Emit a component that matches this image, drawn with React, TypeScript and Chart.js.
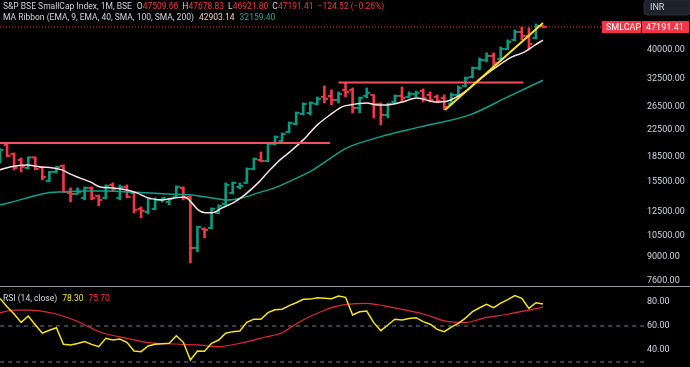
import React, { useEffect, useRef } from "react";
import { Chart, registerables } from "chart.js";
Chart.register(...registerables);

// ---------- DATA (monthly OHLC, S&P BSE SmallCap) ----------
const opens = [
  18129, 20195, 18930, 18129, 17115, 18450, 17239, 15586, 16630, 17364,
  14298, 14195, 13793, 14822, 13992, 13793, 15145, 13793, 14929, 14298,
  12745, 12473, 12745, 13596, 13402, 13892, 14822, 13892, 9625, 11036,
  11115, 12384, 13211, 14298, 14929, 15364, 16992, 18129, 17999, 20341,
  20785, 22176, 23488, 25241, 25423, 27122, 28523, 28729, 27914, 29997,
  29997, 26353, 28729, 28936, 27122, 25060, 27515, 28729, 28523, 29146,
  29782, 28936, 28523, 28319, 27122, 28936, 30870, 32938, 35142, 37223,
  38309, 37492, 40288, 42986, 45530, 44241, 43609, 47509.66,
];
const highs = [
  19625, 20341, 19068, 18392, 18525, 18525, 17300, 16700, 17300, 17489,
  14822, 14822, 14929, 14929, 14090, 15145, 15364, 15145, 15145, 14401,
  12929, 13793, 13793, 13793, 13793, 15036, 14929, 13992, 11250, 11115,
  12837, 13116, 15364, 15475, 15364, 17115, 18392, 19206, 20488, 21547,
  22017, 23828, 25607, 27318, 27515, 28523, 30870, 29997, 29568, 31547,
  30430, 28523, 30430, 29000, 27318, 27318, 28936, 30650, 29568, 29782,
  30214, 29568, 28936, 28936, 29356, 30870, 32938, 35396, 37763, 39146,
  39146, 40873, 42986, 46188, 47200, 46861, 48228, 47678.83,
];
const lows = [
  17743, 18525, 16871, 16630, 16992, 16871, 15698, 15475, 16511, 14350,
  13402, 14150, 13596, 13596, 13022, 13694, 14505, 13596, 13793, 12384,
  11946, 12296, 12654, 13402, 13116, 13793, 13596, 8641, 9353, 10345,
  11036, 12300, 13116, 14195, 14715, 15300, 16871, 17870, 17870, 20195,
  20488, 22017, 23319, 25060, 25060, 26928, 27318, 26928, 27318, 28523,
  25423, 25423, 28319, 24525, 23319, 24525, 27318, 27515, 28319, 28523,
  27515, 27515, 27318, 25976, 26928, 28523, 30650, 32703, 34639, 36690,
  35142, 37223, 40000, 42678, 42986, 40000, 43297, 46921.8,
];
const closes = [
  19484, 18659, 17115, 17239, 18450, 16992, 16040, 16630, 17239, 14401,
  14195, 14401, 14822, 13793, 13596, 15036, 14715, 14929, 13892, 12654,
  12563, 13694, 13596, 13793, 13694, 14929, 13793, 9625, 11195, 10957,
  12745, 13022, 15145, 15364, 15036, 16992, 18260, 17999, 20341, 21393,
  21859, 23657, 25423, 27122, 27318, 28116, 28116, 27914, 29146, 29568,
  26353, 28319, 29356, 27122, 25060, 27122, 28729, 28319, 29146, 29356,
  28319, 27914, 27714, 26543, 28936, 30430, 32703, 35142, 37223, 38309,
  36427, 40288, 42370, 45530, 44241, 41763, 47540, 47191.41,
];

// MA Ribbon lines (bar index, value)
const ema9Idx = [0, 1.4, 3.8, 5.7, 7.5, 8.8, 9.9, 11.3, 12.8, 14.2, 16, 18, 19.4, 21, 23, 24.8, 26.2, 27.2, 28.1, 29.1, 30.1, 31.5, 33.3, 34.7, 36.6, 38, 39, 39.7, 41.1, 43, 45, 46.8, 48.5, 49.6, 52, 53.5, 54.9, 57.1, 59.1, 61.7, 63.5, 65.9, 68.3, 70.2, 72.6, 74.4, 75.9, 77];
const ema9Vals = [16871, 17239, 17489, 17239, 17115, 16871, 16392, 15929, 15475, 14929, 14822, 14610, 14298, 13793, 13596, 13793, 13892, 13306, 12654, 12384, 12384, 12837, 13402, 14093, 15364, 16630, 17489, 18129, 19206, 20936, 23319, 25060, 26543, 26928, 27318, 26928, 26928, 27515, 28319, 27515, 27714, 29568, 32703, 35142, 38036, 39429, 41465, 42903.14];
const ema40Idx = [0, 1.8, 4.3, 6.7, 8.9, 11.8, 15.2, 18, 23.8, 27.2, 30.1, 32.3, 34.3, 36.6, 39.3, 41.8, 44.4, 46.1, 49.2, 53.9, 59.6, 66.6, 72, 77];
const ema40Vals = [13116, 13402, 13892, 14298, 14401, 14505, 14505, 14401, 14195, 14093, 13793, 13596, 13793, 14298, 14929, 15813, 16871, 17870, 19765, 21393, 22990, 25060, 28523, 32159.4];

// Drawings
const supportLevel = 20488;
const supportFrom = -1;
const supportTo = 46.8;
const resistLevel = 31613;
const resistFrom = 48;
const resistTo = 74.2;
const trendIdx = [63.1, 77];
const trendVals = [25976, 48577];

// RSI (14, close) and its MA
const rsiVals = [
  83, 76, 70, 63, 68.3, 61, 54, 56.5, 58.6, 44.7,
  44.2, 45.5, 47, 44.7, 42.8, 49.7, 48.3, 49.2, 46.4, 39.2,
  38.6, 43.3, 44.7, 45.2, 45.6, 51.9, 46.4, 31.7, 39.2, 38.9,
  45.6, 48.3, 54, 55.3, 55.8, 63, 65.7, 65.6, 71.1, 73.5,
  74, 77, 79.4, 82.2, 82.4, 83.6, 83.2, 82.8, 85, 83.9,
  69.2, 71.9, 72.5, 62.8, 56.1, 60.8, 65.6, 65.0, 66.2, 66.9,
  63.6, 61.5, 57.2, 55.3, 59, 62.2, 66.5, 72, 75.2, 78.1,
  75.3, 79, 82, 85.3, 83.1, 74.7, 79.4, 78.3,
];
const rsiMaIdx = [0, 2, 4, 7.5, 10.5, 14.5, 18, 21, 25, 28, 31, 34, 37.5, 40, 42.5, 45, 47.5, 49.5, 52, 54.5, 57.5, 60.5, 63, 66, 68.5, 72, 75, 77];
const rsiMaVals = [71.1, 73.3, 73.3, 70.6, 65, 54.4, 49.7, 46.1, 45, 44.2, 42.8, 45.6, 50.6, 54.4, 63.6, 70.6, 76.1, 78.3, 78.9, 76.7, 73.3, 69.2, 64.2, 62.8, 66.4, 69.8, 73.3, 75.7];
const rsiBands = [60, 30];

const priceTicks = [40000, 32500, 26500, 22500, 18500, 15500, 12500, 10500, 9000, 7600];
const rsiTicks = [80, 60, 40];

const titleText = "S&P BSE SmallCap Index, 1M, BSE";
const changeText = "\u2212124.52 (\u22120.26%)";
const maTitle = "MA Ribbon (EMA, 9, EMA, 40, SMA, 100, SMA, 200)";
const rsiTitle = "RSI (14, close)";
const symbolName = "SMLCAP";
const currency = "INR";

// ---------- STYLE ----------
const FONT = "Roboto, 'Liberation Sans', sans-serif";
const RED = "#f23645";
const GREEN = "#089981";
const TXT = "#d1d4dc";
const EMA9_COLOR = "#f9e3e3";
const EMA9_TEXT = "#f5c6ca";
const EMA40_COLOR = "#12a08b";
const X_MIN = 0;
const X_MAX = 91.32;

type Run = [string, string, number];
function drawRuns(ctx: CanvasRenderingContext2D, runs: Run[], x: number, y: number) {
  let cx = x;
  for (const [t, col, gap] of runs) {
    ctx.fillStyle = col;
    ctx.fillText(t, cx, y);
    cx += ctx.measureText(t).width + gap;
  }
}

const fitAxis = (s: any) => {
  s.width = 46;
  s.paddingTop = 0;
  s.paddingBottom = 0;
};

export default function App() {
  const mainRef = useRef<HTMLCanvasElement>(null);
  const rsiRef = useRef<HTMLCanvasElement>(null);

  useEffect(() => {
    const idx = closes.map((_, i) => i);
    const last = closes.length - 1;

    const bgPlugin = {
      id: "bg",
      beforeDraw(c: any) {
        const ctx = c.ctx;
        ctx.save();
        ctx.fillStyle = "#000";
        ctx.fillRect(0, 0, c.width, c.height);
        ctx.restore();
      },
    };

    const ohlcTicks = {
      id: "ohlcTicks",
      afterDatasetDraw(c: any, args: any) {
        if (c.data.datasets[args.index].label !== "ohlc") return;
        const xs = c.scales.x;
        const ys = c.scales.y;
        const ctx = c.ctx;
        const a = c.chartArea;
        ctx.save();
        ctx.beginPath();
        ctx.rect(a.left, a.top, a.right - a.left, a.bottom - a.top);
        ctx.clip();
        idx.forEach((i) => {
          const x = xs.getPixelForValue(i);
          ctx.fillStyle = closes[i] >= opens[i] ? GREEN : RED;
          const yo = ys.getPixelForValue(opens[i]);
          const yc = ys.getPixelForValue(closes[i]);
          ctx.fillRect(x - 3.5, yo - 1, 3, 2);
          ctx.fillRect(x + 0.5, yc - 1, 3, 2);
        });
        ctx.restore();
      },
    };

    const mainOverlay = {
      id: "mainOverlay",
      afterDraw(c: any) {
        const ctx = c.ctx as CanvasRenderingContext2D;
        const ys = c.scales.y;
        ctx.save();
        ctx.textBaseline = "middle";
        ctx.font = `8.5px ${FONT}`;
        drawRuns(
          ctx,
          [
            [titleText, TXT, 5],
            ["O", TXT, 0],
            [opens[last].toFixed(2), RED, 4],
            ["H", TXT, 0],
            [highs[last].toFixed(2), RED, 4],
            ["L", TXT, 0],
            [lows[last].toFixed(2), RED, 4],
            ["C", TXT, 0],
            [closes[last].toFixed(2), RED, 4],
            [changeText, RED, 0],
          ],
          3,
          7
        );
        drawRuns(
          ctx,
          [
            [maTitle, TXT, 5],
            [ema9Vals[ema9Vals.length - 1].toFixed(2), EMA9_TEXT, 5],
            [ema40Vals[ema40Vals.length - 1].toFixed(2), "#26a69a", 0],
          ],
          3,
          18
        );
        // currency box
        ctx.fillStyle = "#1e222d";
        ctx.beginPath();
        (ctx as any).roundRect(644, 0, 46, 15, 3);
        ctx.fill();
        ctx.strokeStyle = "#2a2e39";
        ctx.stroke();
        ctx.fillStyle = TXT;
        ctx.font = `9px ${FONT}`;
        ctx.fillText(currency, 650, 7.5);
        // last price labels
        const yp = Math.round(ys.getPixelForValue(closes[last]));
        ctx.fillStyle = RED;
        ctx.fillRect(602, yp - 6, 39, 12);
        ctx.fillRect(642, yp - 6, 47, 12);
        ctx.fillStyle = "#ffffff";
        ctx.font = `9px ${FONT}`;
        ctx.fillText(symbolName, 606, yp + 0.5);
        ctx.fillText(closes[last].toFixed(2), 646, yp + 0.5);
        ctx.restore();
      },
    };

    const mainChart = new Chart(mainRef.current as HTMLCanvasElement, {
      type: "bar",
      data: {
        datasets: [
          {
            type: "line",
            label: "support",
            data: [
              { x: supportFrom, y: supportLevel },
              { x: supportTo, y: supportLevel },
            ],
            borderColor: "#f6505c",
            borderWidth: 2,
            pointRadius: 0,
            order: 1,
          },
          {
            type: "line",
            label: "resistance",
            data: [
              { x: resistFrom, y: resistLevel },
              { x: resistTo, y: resistLevel },
            ],
            borderColor: "#f6505c",
            borderWidth: 2,
            pointRadius: 0,
            order: 1,
          },
          {
            type: "line",
            label: "trend",
            data: trendIdx.map((x, k) => ({ x, y: trendVals[k] })),
            borderColor: "#f7e51c",
            borderWidth: 2,
            pointRadius: 0,
            order: 0,
          },
          {
            type: "line",
            label: "last",
            data: [
              { x: X_MIN, y: closes[last] },
              { x: X_MAX, y: closes[last] },
            ],
            borderColor: RED,
            borderWidth: 1,
            borderDash: [1, 2],
            pointRadius: 0,
            order: 4,
          },
          {
            type: "line",
            label: "ema9",
            data: ema9Idx.map((x, k) => ({ x, y: ema9Vals[k] })),
            borderColor: EMA9_COLOR,
            borderWidth: 1.5,
            pointRadius: 0,
            cubicInterpolationMode: "monotone",
            order: 2,
          },
          {
            type: "line",
            label: "ema40",
            data: ema40Idx.map((x, k) => ({ x, y: ema40Vals[k] })),
            borderColor: EMA40_COLOR,
            borderWidth: 1.5,
            pointRadius: 0,
            cubicInterpolationMode: "monotone",
            order: 2,
          },
          {
            type: "bar",
            label: "ohlc",
            data: idx.map((i) => ({ x: i, y: [lows[i], highs[i]] })) as any,
            backgroundColor: idx.map((i) => (closes[i] >= opens[i] ? GREEN : RED)),
            borderWidth: 0,
            barThickness: 2,
            order: 3,
          } as any,
        ],
      },
      options: {
        responsive: false,
        maintainAspectRatio: false,
        animation: false,
        layout: { padding: 0 },
        plugins: { legend: { display: false }, tooltip: { enabled: false } },
        scales: {
          x: { type: "linear", min: X_MIN, max: X_MAX, display: false, offset: false },
          y: {
            type: "logarithmic",
            position: "right",
            min: 7265,
            max: 57280,
            afterBuildTicks: (s: any) => {
              s.ticks = priceTicks.map((v) => ({ value: v }));
            },
            afterFit: fitAxis,
            grid: { display: false, drawTicks: false },
            border: { display: false },
            ticks: {
              color: TXT,
              font: { family: FONT, size: 9 },
              padding: 3,
              autoSkip: false,
              callback: (v: any) => Number(v).toFixed(2),
            },
          },
        },
      } as any,
      plugins: [bgPlugin, ohlcTicks, mainOverlay],
    });

    const rsiOverlay = {
      id: "rsiOverlay",
      afterDraw(c: any) {
        const ctx = c.ctx as CanvasRenderingContext2D;
        ctx.save();
        ctx.textBaseline = "middle";
        ctx.font = `8.5px ${FONT}`;
        drawRuns(
          ctx,
          [
            [rsiTitle, TXT, 5],
            [rsiVals[rsiVals.length - 1].toFixed(2), "#f7e51c", 5],
            [rsiMaVals[rsiMaVals.length - 1].toFixed(2), RED, 0],
          ],
          3,
          12
        );
        ctx.restore();
      },
    };

    const rsiChart = new Chart(rsiRef.current as HTMLCanvasElement, {
      type: "line",
      data: {
        datasets: [
          ...rsiBands.map((b) => ({
            label: "band" + b,
            data: [
              { x: X_MIN, y: b },
              { x: X_MAX, y: b },
            ],
            borderColor: "#787b86",
            borderWidth: 1,
            borderDash: [4, 4],
            pointRadius: 0,
            order: 3,
          })),
          {
            label: "rsiMa",
            data: rsiMaIdx.map((x, k) => ({ x, y: rsiMaVals[k] })),
            borderColor: "#e0293b",
            borderWidth: 1.2,
            pointRadius: 0,
            cubicInterpolationMode: "monotone",
            order: 2,
          },
          {
            label: "rsi",
            data: idx.map((i) => ({ x: i, y: rsiVals[i] })),
            borderColor: "#f7e51c",
            borderWidth: 1.5,
            pointRadius: 0,
            tension: 0,
            order: 1,
          },
        ],
      },
      options: {
        responsive: false,
        maintainAspectRatio: false,
        animation: false,
        layout: { padding: 0 },
        plugins: { legend: { display: false }, tooltip: { enabled: false } },
        scales: {
          x: { type: "linear", min: X_MIN, max: X_MAX, display: false },
          y: {
            type: "linear",
            position: "right",
            min: 25.83,
            max: 92.5,
            afterBuildTicks: (s: any) => {
              s.ticks = rsiTicks.map((v) => ({ value: v }));
            },
            afterFit: fitAxis,
            grid: { display: false, drawTicks: false },
            border: { display: false },
            ticks: {
              color: TXT,
              font: { family: FONT, size: 9 },
              padding: 3,
              autoSkip: false,
              callback: (v: any) => Number(v).toFixed(2),
            },
          },
        },
      } as any,
      plugins: [bgPlugin, rsiOverlay],
    });

    return () => {
      mainChart.destroy();
      rsiChart.destroy();
    };
  }, []);

  return (
    <div
      style={{
        position: "fixed",
        left: 0,
        top: 0,
        width: 690,
        height: 367,
        background: "#000",
        overflow: "hidden",
      }}
    >
      <canvas
        ref={mainRef}
        width={690}
        height={287}
        style={{ position: "absolute", left: 0, top: 0, width: 690, height: 287 }}
      />
      <div
        style={{
          position: "absolute",
          left: 0,
          top: 286,
          width: 690,
          height: 1,
          background: "#9a9ca3",
        }}
      />
      <canvas
        ref={rsiRef}
        width={690}
        height={80}
        style={{ position: "absolute", left: 0, top: 287, width: 690, height: 80 }}
      />
    </div>
  );
}
